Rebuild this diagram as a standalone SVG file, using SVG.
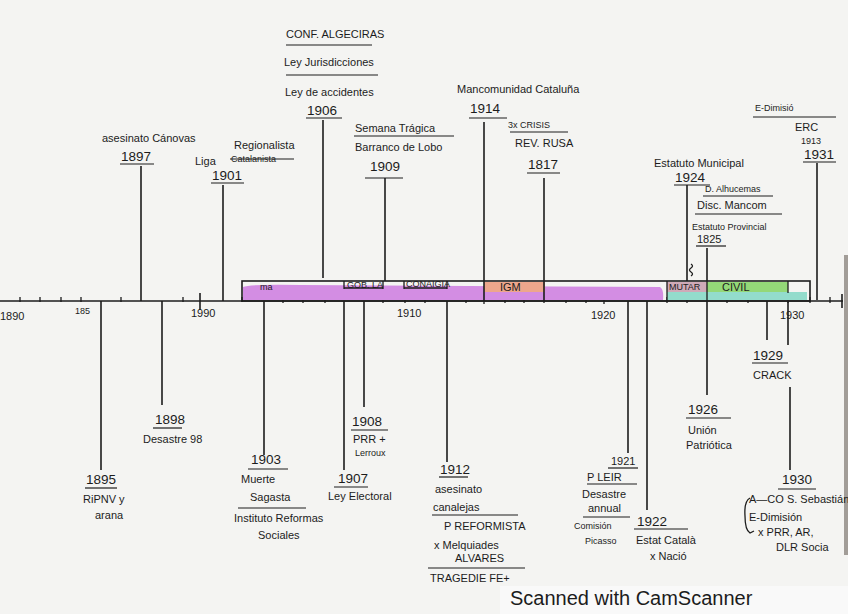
<svg xmlns="http://www.w3.org/2000/svg" width="848" height="614" viewBox="0 0 848 614">
<style>
.ln{stroke:#1c1c1c;stroke-width:1.6;fill:none}
.tk{stroke:#1c1c1c;stroke-width:1.3;fill:none}
.ul{stroke:#1c1c1c;stroke-width:1.2}
text{font-family:"Liberation Sans",Arial,sans-serif;fill:#1c1c1c}
.t{font-size:11px}
.s{font-size:9px}
.y{font-size:13.5px}
.ax{font-size:11px}
</style>
<rect width="848" height="614" fill="#f4f4f2"/>
<rect x="500" y="586" width="348" height="28" fill="#f9f9f9"/>
<rect x="844" y="255" width="4" height="300" fill="#a29d98"/>

<g id="axis">
  <line class="ln" x1="0" y1="301" x2="843" y2="301"/>
  <line class="ln" x1="842" y1="294" x2="842" y2="308"/>
  <path class="tk" d="M20 297v5M40 297v5M61 297v5M81 297v5M121 297v5M183 297v5M242 297v5M283 297v6M303 297v6M325 297v6M383 297v6M405 297v6M425 297v6M466 297v6M484 296v8M505 297v6M524 297v6M544 297v6M566 297v6M586 297v6M604 296v8M667 297v6M687 297v6M727 297v6M748 297v6M788 297v6M810 297v6M830 297v6"/>
  <line class="ln" x1="200" y1="293" x2="200" y2="310"/>
  <text class="ax" x="0" y="320">1890</text>
  <text class="s" x="75" y="314">185</text>
  <text class="ax" x="191" y="317">1990</text>
  <text class="ax" x="397" y="317">1910</text>
  <text class="ax" x="591" y="319">1920</text>
  <text class="ax" x="780" y="319">1930</text>
</g>

<g id="periods">
  <path d="M243 287 Q250 284 300 285 L660 287 Q664 289 663 300 L243 300 Z" fill="#d38de3"/>
  <rect x="484" y="282" width="61" height="10" fill="#eda68c"/>
  <rect x="667" y="282" width="40" height="10" fill="#cfaab8"/>
  <rect x="707" y="282" width="81" height="11" fill="#94d878"/>
  <rect x="667" y="292" width="140" height="8" fill="#93dccc"/>
  <rect class="ln" x="242" y="281" width="568" height="20"/>
  <path class="tk" d="M344 281v8M383 281v8M344 288h39M404 281v8M447 281v8M404 288h43M667 281v20M788 281v12M707 281v20"/>
  <text class="s" x="260" y="290" font-size="7">ma</text>
  <text class="s" x="347" y="288" font-size="8">GOB. LA</text>
  <text class="s" x="406" y="287" font-size="7">CONAIGIA</text>
  <text class="t" x="500" y="291">IGM</text>
  <text class="s" x="669" y="290">MUTAR</text>
  <text class="t" x="722" y="291">CIVIL</text>
</g>

<g id="e1897">
  <line class="ln" x1="141" y1="166" x2="141" y2="301"/>
  <text class="t" x="102" y="142">asesinato Cánovas</text>
  <text class="y" x="121" y="161">1897</text>
  <line class="ul" x1="120" y1="164" x2="154" y2="164"/>
</g>
<g id="e1901">
  <line class="ln" x1="223" y1="185" x2="223" y2="301"/>
  <text class="t" x="234" y="149">Regionalista</text>
  <text class="t" x="195" y="165" font-size="13">Liga</text>
  <text class="s" x="231" y="162">Catalanista</text>
  <line class="ul" x1="230" y1="159" x2="294" y2="159"/>
  <text class="y" x="212" y="180">1901</text>
  <line class="ul" x1="211" y1="183" x2="244" y2="183"/>
</g>
<g id="e1906">
  <line class="ln" x1="323" y1="120" x2="323" y2="278"/>
  <text class="t" x="286" y="38">CONF. ALGECIRAS</text>
  <line class="ul" x1="286" y1="45" x2="372" y2="45"/>
  <text class="t" x="284" y="66">Ley Jurisdicciones</text>
  <line class="ul" x1="286" y1="75" x2="378" y2="75"/>
  <text class="t" x="285" y="96">Ley de accidentes</text>
  <text class="y" x="307" y="115">1906</text>
  <line class="ul" x1="306" y1="118" x2="342" y2="118"/>
</g>
<g id="e1909">
  <line class="ln" x1="385" y1="178" x2="385" y2="281"/>
  <text class="t" x="355" y="132">Semana Trágica</text>
  <line class="ul" x1="354" y1="136" x2="454" y2="136"/>
  <text class="t" x="355" y="151">Barranco de Lobo</text>
  <text class="y" x="370" y="171">1909</text>
  <line class="ul" x1="365" y1="178" x2="403" y2="178"/>
</g>
<g id="e1914">
  <line class="ln" x1="484" y1="122" x2="484" y2="301"/>
  <text class="t" x="457" y="93" font-size="12">Mancomunidad Cataluña</text>
  <text class="y" x="470" y="113">1914</text>
  <line class="ul" x1="469" y1="118" x2="507" y2="118"/>
</g>
<g id="e1917">
  <line class="ln" x1="544" y1="178" x2="544" y2="301"/>
  <text class="s" x="508" y="128">3x CRISIS</text>
  <line class="ul" x1="510" y1="132" x2="568" y2="132"/>
  <text class="t" x="515" y="147">REV. RUSA</text>
  <text class="y" x="528" y="169">1817</text>
  <line class="ul" x1="527" y1="173" x2="560" y2="173"/>
</g>
<g id="e1924">
  <line class="ln" x1="687" y1="185" x2="687" y2="281"/>
  <path class="tk" d="M691 264q3 2 0 4q-3 2 0 4q3 2 0 4"/>
  <text class="t" x="654" y="167">Estatuto Municipal</text>
  <text class="y" x="675" y="182">1924</text>
  <line class="ul" x1="674" y1="185" x2="710" y2="185"/>
</g>
<g id="e1925">
  <line class="ln" x1="707" y1="248" x2="707" y2="281"/>
  <text class="s" x="705" y="192">D. Alhucemas</text>
  <line class="ul" x1="703" y1="196" x2="773" y2="196"/>
  <text class="t" x="697" y="209">Disc. Mancom</text>
  <line class="ul" x1="695" y1="214" x2="782" y2="214"/>
  <text class="s" x="692" y="230">Estatuto Provincial</text>
  <text class="t" x="697" y="243">1825</text>
  <line class="ul" x1="696" y1="246" x2="726" y2="246"/>
</g>
<g id="e1931">
  <line class="ln" x1="817" y1="163" x2="817" y2="300"/>
  <text class="s" x="755" y="111">E-Dimisió</text>
  <line class="ul" x1="753" y1="117" x2="836" y2="117"/>
  <text class="t" x="795" y="131">ERC</text>
  <text class="s" x="801" y="144">1913</text>
  <text class="y" x="804" y="159">1931</text>
  <line class="ul" x1="803" y1="162" x2="836" y2="162"/>
</g>

<g id="e1895">
  <line class="ln" x1="101" y1="301" x2="101" y2="470"/>
  <text class="y" x="86" y="484">1895</text>
  <line class="ul" x1="85" y1="488" x2="117" y2="488"/>
  <text class="t" x="83" y="503">RiPNV y</text>
  <text class="t" x="95" y="519">arana</text>
</g>
<g id="e1898">
  <line class="ln" x1="162" y1="301" x2="162" y2="405"/>
  <text class="y" x="155" y="424">1898</text>
  <line class="ul" x1="153" y1="428" x2="182" y2="428"/>
  <text class="t" x="143" y="443">Desastre 98</text>
</g>
<g id="e1903">
  <line class="ln" x1="264" y1="301" x2="264" y2="455"/>
  <text class="y" x="251" y="464">1903</text>
  <line class="ul" x1="248" y1="469" x2="288" y2="469"/>
  <text class="t" x="241" y="483">Muerte</text>
  <text class="t" x="250" y="501">Sagasta</text>
  <line class="ul" x1="238" y1="508" x2="306" y2="508"/>
  <text class="t" x="234" y="522">Instituto Reformas</text>
  <text class="t" x="258" y="539">Sociales</text>
</g>
<g id="e1907">
  <line class="ln" x1="344" y1="301" x2="344" y2="470"/>
  <text class="y" x="338" y="483">1907</text>
  <line class="ul" x1="334" y1="487" x2="368" y2="487"/>
  <text class="t" x="328" y="500">Ley Electoral</text>
</g>
<g id="e1908">
  <line class="ln" x1="364" y1="301" x2="364" y2="407"/>
  <text class="y" x="352" y="426">1908</text>
  <line class="ul" x1="351" y1="430" x2="388" y2="430"/>
  <text class="t" x="353" y="443">PRR +</text>
  <text class="s" x="355" y="456">Lerroux</text>
</g>
<g id="e1912">
  <line class="ln" x1="447" y1="301" x2="447" y2="462"/>
  <text class="y" x="440" y="474">1912</text>
  <line class="ul" x1="439" y1="477" x2="468" y2="477"/>
  <text class="t" x="435" y="493">asesinato</text>
  <text class="t" x="433" y="511">canalejas</text>
  <line class="ul" x1="432" y1="515" x2="518" y2="515"/>
  <text class="t" x="444" y="530">P REFORMISTA</text>
  <text class="t" x="434" y="549">x Melquiades</text>
  <text class="t" x="455" y="562">ALVARES</text>
  <line class="ul" x1="428" y1="568" x2="525" y2="568"/>
  <text class="t" x="430" y="582">TRAGEDIE FE+</text>
</g>
<g id="e1921">
  <line class="ln" x1="628" y1="301" x2="628" y2="453"/>
  <text class="t" x="611" y="465">1921</text>
  <line class="ul" x1="608" y1="468" x2="638" y2="468"/>
  <text class="t" x="587" y="481">P LEIR</text>
  <line class="ul" x1="587" y1="484" x2="637" y2="484"/>
  <text class="t" x="582" y="498">Desastre</text>
  <text class="t" x="588" y="512">annual</text>
  <line class="ul" x1="583" y1="517" x2="630" y2="517"/>
  <text class="s" x="574" y="529">Comisión</text>
  <text class="s" x="585" y="544">Picasso</text>
</g>
<g id="e1922">
  <line class="ln" x1="647" y1="301" x2="647" y2="510"/>
  <text class="y" x="637" y="526" font-size="15">1922</text>
  <line class="ul" x1="634" y1="529" x2="688" y2="529"/>
  <text class="t" x="636" y="544">Estat Català</text>
  <text class="t" x="650" y="560">x Nació</text>
</g>
<g id="e1926">
  <line class="ln" x1="707" y1="301" x2="707" y2="395"/>
  <text class="y" x="688" y="414" font-size="14">1926</text>
  <line class="ul" x1="686" y1="418" x2="731" y2="418"/>
  <text class="t" x="688" y="434">Unión</text>
  <text class="t" x="686" y="449">Patriótica</text>
</g>
<g id="e1929">
  <line class="ln" x1="767" y1="301" x2="767" y2="340"/>
  <text class="y" x="753" y="360">1929</text>
  <line class="ul" x1="752" y1="363" x2="788" y2="363"/>
  <text class="t" x="753" y="379">CRACK</text>
</g>
<g id="e1930">
  <line class="ln" x1="788" y1="301" x2="788" y2="345"/>
  <line class="ln" x1="790" y1="387" x2="790" y2="470"/>
  <text class="y" x="782" y="484">1930</text>
  <line class="ul" x1="778" y1="489" x2="816" y2="489"/>
  <path class="tk" d="M750 498q-6 3 -5 18q0 14 5 17l4 -2"/>
  <text class="t" x="749" y="503">A—CO S. Sebastián</text>
  <text class="t" x="749" y="521">E-Dimisión</text>
  <text class="t" x="758" y="536">x PRR, AR,</text>
  <text class="t" x="776" y="551">DLR Socia</text>
</g>

<text x="510" y="605" font-size="20" fill="#2a2a2a">Scanned with CamScanner</text>
</svg>
